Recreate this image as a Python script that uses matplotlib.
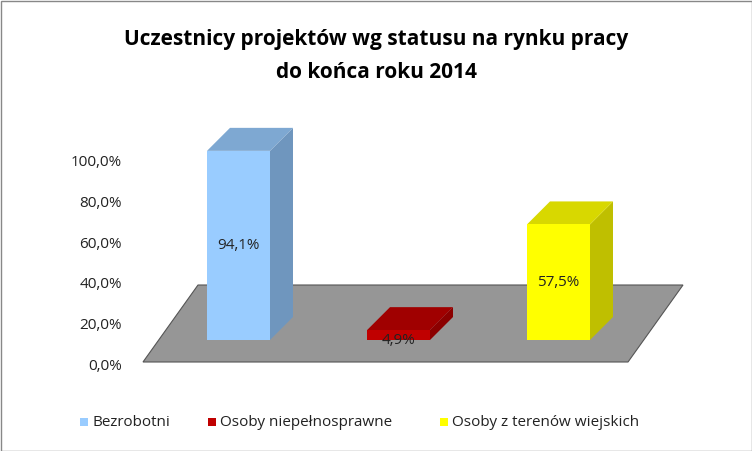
import matplotlib.pyplot as plt
from matplotlib.patches import Polygon, Rectangle

categories = ["Bezrobotni", "Osoby niepełnosprawne", "Osoby z terenów wiejskich"]
values = [94.1, 4.9, 57.5]
labels = ["94,1%", "4,9%", "57,5%"]
ticks = [0, 20, 40, 60, 80, 100]
tick_labels = ["0,0%", "20,0%", "40,0%", "60,0%", "80,0%", "100,0%"]

front = ["#99CCFF", "#C00000", "#FFFF00"]
side = ["#6F96BE", "#8B0000", "#BFBF00"]
top = ["#7EA8D2", "#A00000", "#D8D800"]

plt.rcParams["font.family"] = "Open Sans"
fig = plt.figure(figsize=(7.52, 4.51), dpi=100)
ax = fig.add_axes([0, 0, 1, 1])
ax.set_xlim(0, 752)
ax.set_ylim(451, 0)
ax.axis("off")

ax.add_patch(Rectangle((0.5, 0.5), 751, 450, fill=False, ec="#888888", lw=1))

# pseudo-3D geometry (pixels)
axis_zero, axis_scale = 366, 2.03     # tick axis: px per percent
base_y, bar_scale = 340, 2.01         # bar front base, px per percent
dx, dy = 23, -23
bar_w = 63
bar_x = [207, 367, 527]

# floor
ax.add_patch(Polygon([(143, 362), (628, 362), (683, 285), (198, 285)],
                     closed=True, fc="#969696", ec="#555555", lw=0.8))

for i, v in enumerate(values):
    x0 = bar_x[i]
    h = v * bar_scale
    yt = base_y - h
    ax.add_patch(Polygon([(x0 + bar_w, base_y), (x0 + bar_w + dx, base_y + dy),
                          (x0 + bar_w + dx, yt + dy), (x0 + bar_w, yt)], fc=side[i], ec="none"))
    ax.add_patch(Polygon([(x0, yt), (x0 + bar_w, yt), (x0 + bar_w + dx, yt + dy),
                          (x0 + dx, yt + dy)], fc=top[i], ec="none"))
    ax.add_patch(Rectangle((x0, yt), bar_w, h, fc=front[i], ec="none"))
    ly = yt + h / 2 if h > 30 else base_y
    ax.text(x0 + bar_w / 2, ly, labels[i], ha="center", va="center", fontsize=11, color="#222222")

for t, tl in zip(ticks, tick_labels):
    ax.text(122, axis_zero - t * axis_scale, tl, ha="right", va="center", fontsize=11, color="#222222")

ax.text(376, 40, "Uczestnicy projektów wg statusu na rynku pracy", ha="center", va="center",
        fontsize=15, fontweight="bold")
ax.text(376, 72, "do końca roku 2014", ha="center", va="center", fontsize=15, fontweight="bold")

leg_x = [80, 208, 440]
for i, c in enumerate(categories):
    ax.add_patch(Rectangle((leg_x[i], 418), 8, 8, fc=front[i], ec="none"))
    ax.text(leg_x[i] + 12, 423, c, ha="left", va="center", fontsize=11, color="#222222")

fig.savefig("out.png", dpi=100)
